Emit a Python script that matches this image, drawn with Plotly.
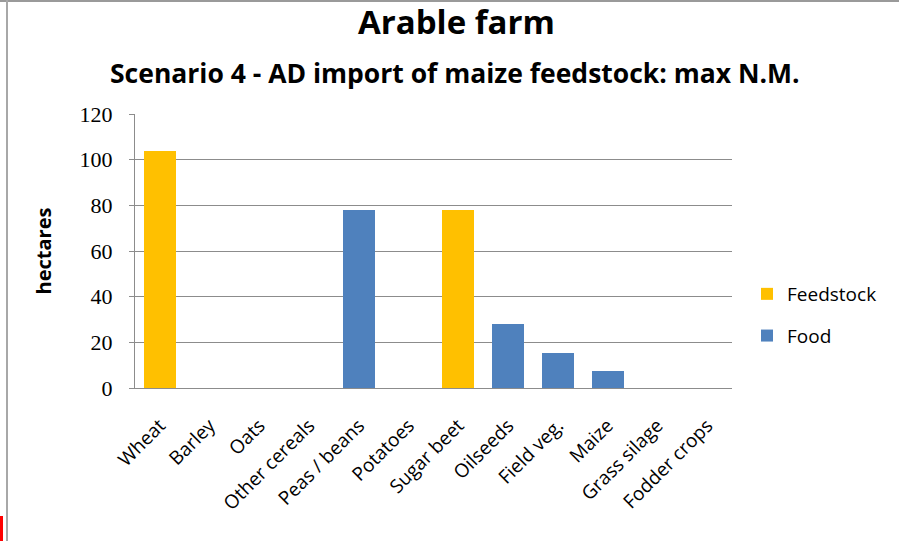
import plotly.graph_objects as go

categories = ["Wheat", "Barley", "Oats", "Other cereals", "Peas / beans", "Potatoes",
              "Sugar beet", "Oilseeds", "Field veg.", "Maize", "Grass silage", "Fodder crops"]
feedstock = [104, 0, 0, 0, 0, 0, 78, 0, 0, 0, 0, 0]
food = [0, 0, 0, 0, 78, 0, 0, 28, 15.3, 7.5, 0, 0]
y_ticks = [0, 20, 40, 60, 80, 100, 120]

SANS = "Open Sans, Lato, sans-serif"
SERIF = "Liberation Serif, DejaVu Serif, serif"

L, T, PW, PH = 135, 114, 597, 274


def px(x):
    return (x - L) / PW


def py(y):
    return (T + PH - y) / PH


fig = go.Figure()
fig.add_trace(go.Bar(x=categories, y=feedstock, name="Feedstock", marker_color="#FFC000",
                     marker_line_width=0, legendgroup="a"))
fig.add_trace(go.Bar(x=categories, y=food, name="Food", marker_color="#4F81BD",
                     marker_line_width=0, legendgroup="b"))

fig.update_layout(
    width=899, height=541,
    margin=dict(l=L, r=899 - L - PW, t=T, b=541 - T - PH),
    paper_bgcolor="white", plot_bgcolor="white",
    barmode="stack", bargap=0.36,
    font=dict(family=SANS, color="black"),
    showlegend=True,
    legend=dict(x=px(747), y=py(315), xanchor="left", yanchor="middle",
                font=dict(family=SANS, size=19, color="black"),
                tracegroupgap=14, itemwidth=30, bgcolor="rgba(0,0,0,0)"),
    annotations=[
        dict(text="<b>Arable farm</b>", x=px(456), y=py(22), xref="paper", yref="paper",
             yanchor="middle", showarrow=False, font=dict(family=SANS, size=33, color="black")),
        dict(text="<b>Scenario 4 - AD import of maize feedstock: max N.M.</b>", x=px(455), y=py(73),
             xref="paper", yref="paper", yanchor="middle", showarrow=False,
             font=dict(family=SANS, size=26.5, color="black")),
    ],
)

fig.update_xaxes(
    tickangle=-45, tickfont=dict(family=SANS, size=19, color="black"),
    showline=True, linecolor="#8c8c8c", linewidth=1, showgrid=False, ticks="",
    ticklabelstandoff=18,
)
fig.update_yaxes(
    range=[0, 120], tickvals=y_ticks, ticks="outside", ticklen=5, tickcolor="#8c8c8c",
    tickfont=dict(family=SERIF, size=22, color="black"), ticklabelstandoff=12,
    showline=True, linecolor="#8c8c8c", linewidth=1,
    showgrid=True, gridcolor="#8c8c8c", gridwidth=1, zeroline=False,
    title=dict(text="<b>hectares</b>", font=dict(family=SANS, size=20, color="black"), standoff=22),
)

fig.add_shape(type="line", xref="paper", yref="paper",
              x0=px(0), x1=px(899), y0=py(1), y1=py(1),
              line=dict(color="#9a9a9a", width=2))
fig.add_shape(type="line", xref="paper", yref="paper",
              x0=px(7), x1=px(7), y0=py(0), y1=py(541),
              line=dict(color="#a8a8a8", width=2))
fig.add_shape(type="rect", xref="paper", yref="paper",
              x0=px(0), x1=px(3), y0=py(516), y1=py(541),
              line_width=0, fillcolor="red")

fig.write_html("out.html")
